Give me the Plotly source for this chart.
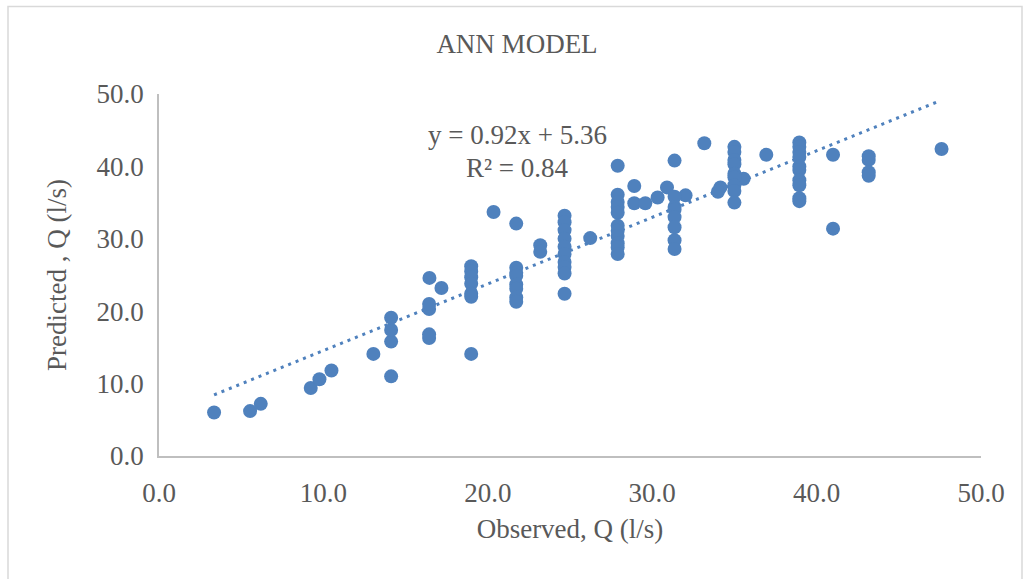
import plotly.graph_objects as go

observed = [
    3.35, 5.54, 6.19, 9.23, 9.76, 10.49, 13.04,
    14.12, 14.12, 14.12, 14.12,
    16.43, 16.43, 16.43, 16.43, 16.45, 17.18,
    18.99, 18.99, 18.99, 18.99, 18.99, 18.99, 18.99,
    20.35, 21.73,
    21.73, 21.73, 21.73, 21.73, 21.73, 21.73, 21.73,
    23.19, 23.19,
    24.67, 24.67, 24.67, 24.67, 24.67, 24.67, 24.67, 24.67, 24.67, 24.67,
    26.23,
    27.9, 27.9, 27.9, 27.9, 27.9, 27.9, 27.9, 27.9, 27.9, 27.9, 27.9,
    28.91, 28.91, 29.58, 30.33, 30.9, 31.36, 32.03,
    31.36, 31.36, 31.36, 31.36, 31.36, 31.36, 31.36,
    33.17, 34.15, 34.0, 35.56,
    35.0, 35.0, 35.0, 35.0, 35.0, 35.0, 35.0, 35.0, 35.0,
    36.94,
    38.95, 38.95, 38.95, 38.95, 38.95, 38.95, 38.95, 38.95, 38.95, 38.95,
    41.0, 41.0,
    43.17, 43.17, 43.17, 43.17,
    47.6,
]
predicted = [
    6.0, 6.2, 7.2, 9.4, 10.6, 11.8, 14.1,
    11.0, 15.8, 17.4, 19.1,
    16.3, 16.8, 20.3, 21.0, 24.6, 23.2,
    26.2, 25.5, 24.7, 23.8, 22.4, 22.0, 14.1,
    33.7, 32.1,
    26.0, 25.3, 24.9, 23.7, 23.1, 21.9, 21.3,
    29.1, 28.2,
    33.2, 32.3, 31.2, 30.0, 28.9, 27.9, 26.8, 26.1, 25.2, 22.4,
    30.1,
    40.1, 36.1, 35.1, 34.4, 33.6, 31.8, 31.1, 30.4, 29.4, 28.8, 27.9,
    37.3, 34.9, 34.9, 35.7, 37.1, 40.8, 36.0,
    35.8, 34.4, 34.0, 33.0, 31.6, 29.8, 28.6,
    43.2, 37.1, 36.5, 38.3,
    42.7, 42.0, 40.9, 40.3, 39.0, 38.5, 37.4, 36.6, 35.0,
    41.6,
    43.3, 42.7, 42.0, 41.3, 40.0, 39.5, 38.1, 37.4, 35.6, 35.2,
    41.6, 31.4,
    41.4, 40.9, 39.2, 38.7,
    42.4,
]

slope = 0.92
intercept = 5.36
equation_text = "y = 0.92x + 5.36"
r2_text = "R² = 0.84"

x_ticks = [0, 10, 20, 30, 40, 50]
y_ticks = [0, 10, 20, 30, 40, 50]

blue = "#4F81BD"
txt = "#595959"
font_family = "Liberation Serif, Times New Roman, serif"
fs = 27

xmin, xmax = min(observed), max(observed)
trend_x = [xmin, xmax - 0.3]
trend_y = [slope * v + intercept for v in trend_x]

fig = go.Figure()
fig.add_trace(go.Scatter(
    x=trend_x, y=trend_y, mode="lines",
    line=dict(color=blue, width=3, dash="3px,5px"),
    hoverinfo="skip", showlegend=False,
))
fig.add_trace(go.Scatter(
    x=observed, y=predicted, mode="markers",
    marker=dict(color=blue, size=14, line=dict(width=0)),
    showlegend=False,
))

fig.update_layout(
    width=1034, height=579,
    margin=dict(l=159, r=53, t=93.5, b=123.3),
    paper_bgcolor="white", plot_bgcolor="white",
    font=dict(family=font_family, color=txt, size=fs),
    title=dict(text="ANN MODEL", x=0.5, xanchor="center", y=0.925, yanchor="middle",
               font=dict(size=fs, color=txt, family=font_family)),
    xaxis=dict(
        range=[0, 50], tickvals=x_ticks, ticktext=[f"{v:.1f}" for v in x_ticks],
        showgrid=False, zeroline=False, showline=True, linecolor="#BFBFBF", linewidth=1.5,
        ticks="", ticklabelstandoff=12,
        title=dict(text="Observed, Q (l/s)", standoff=12, font=dict(size=fs, color=txt)),
    ),
    yaxis=dict(
        range=[0, 50], tickvals=y_ticks, ticktext=[f"{v:.1f}" for v in y_ticks],
        showgrid=False, zeroline=False, showline=True, linecolor="#BFBFBF", linewidth=1.5,
        ticks="", ticklabelstandoff=8,
        title=dict(text="Predicted , Q (l/s)", standoff=22, font=dict(size=fs, color=txt)),
    ),
    annotations=[
        dict(text=equation_text, xref="paper", yref="paper",
             x=(517 - 159) / 822, y=(455.7 - 135) / 362.2,
             xanchor="center", yanchor="middle", showarrow=False,
             font=dict(size=fs, color=txt, family=font_family)),
        dict(text=r2_text, xref="paper", yref="paper",
             x=(517 - 159) / 822, y=(455.7 - 168) / 362.2,
             xanchor="center", yanchor="middle", showarrow=False,
             font=dict(size=fs, color=txt, family=font_family)),
    ],
    shapes=[
        dict(type="rect", xref="paper", yref="paper",
             x0=(8 - 159) / 822, x1=(1022 - 159) / 822,
             y0=(455.7 - 600) / 362.2, y1=(455.7 - 6) / 362.2,
             line=dict(color="#D9D9D9", width=1.5), fillcolor="rgba(0,0,0,0)",
             layer="below"),
    ],
)

fig.write_html("out.html")
